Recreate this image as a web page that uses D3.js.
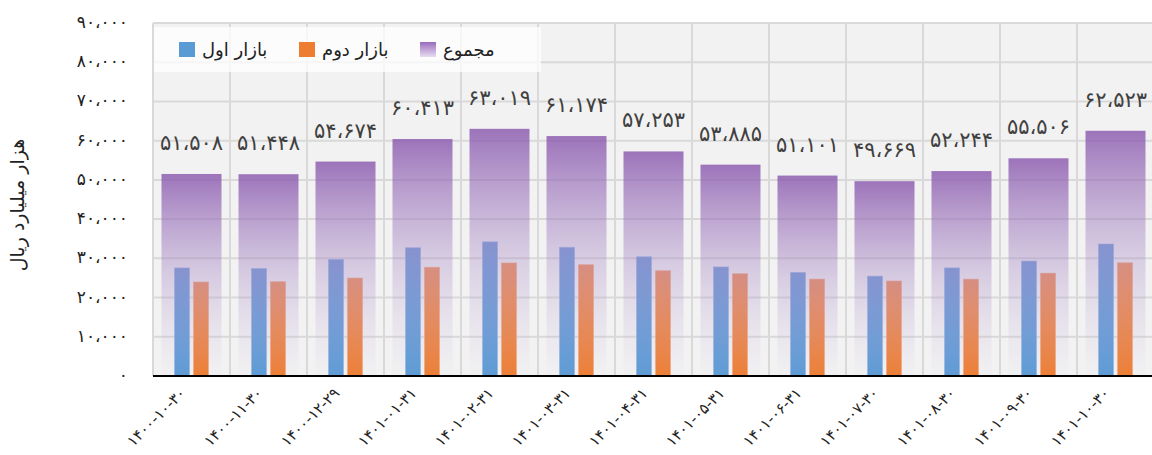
<!DOCTYPE html>
<html><head><meta charset="utf-8">
<script src="https://cdn.jsdelivr.net/npm/d3@7/dist/d3.min.js"></script>
<style>
html,body{margin:0;padding:0;background:#fff;}
svg{display:block;font-family:"DejaVu Sans",sans-serif;}
</style></head>
<body><svg id="c" width="1152" height="455"></svg>
<script>
const categories = ["1400-10-30","1400-11-30","1400-12-29","1401-01-31","1401-02-31","1401-03-31","1401-04-31","1401-05-31","1401-06-31","1401-07-30","1401-08-30","1401-09-30","1401-10-30"];
const market1 = [27550,27400,29700,32700,34200,32800,30400,27800,26400,25450,27560,29300,33650];
const market2 = [23958,24048,24974,27713,28819,28374,26853,26085,24701,24219,24684,26206,28873];
const totals  = [51508,51448,54674,60413,63019,61174,57253,53885,51101,49669,52244,55506,62523];
const yTicks  = [0,10000,20000,30000,40000,50000,60000,70000,80000,90000];
const seriesNames = ["بازار اول","بازار دوم","مجموع"];
const yTitle = "هزار میلیارد ریال";

const fa = s => String(s).replace(/[0-9]/g, d => "۰۱۲۳۴۵۶۷۸۹"[+d]);
const fmt = v => fa(d3.format(",")(v).replace(/,/g,"،"));

const svg = d3.select("#c");
const L = 153, R = 1154, T = 23, B = 376;
const x = d3.scaleBand().domain(categories).range([L,R]).paddingInner(0).paddingOuter(0);
const y = d3.scaleLinear().domain([0,90000]).range([B,T]);

const defs = svg.append("defs");
const gp = defs.append("linearGradient").attr("id","gp").attr("x1",0).attr("y1",0).attr("x2",0).attr("y2",1);
gp.append("stop").attr("offset","0").attr("stop-color","#8a58ae").attr("stop-opacity",0.82);
gp.append("stop").attr("offset","0.5").attr("stop-color","#a98bc6").attr("stop-opacity",0.38);
gp.append("stop").attr("offset","1").attr("stop-color","#c9b6dc").attr("stop-opacity",0.03);
const gb = defs.append("linearGradient").attr("id","gb").attr("x1",0).attr("y1",0).attr("x2",0).attr("y2",1);
gb.append("stop").attr("offset","0").attr("stop-color","#6f9ad6");
gb.append("stop").attr("offset","1").attr("stop-color","#5b9bd5");
const go = defs.append("linearGradient").attr("id","go").attr("x1",0).attr("y1",0).attr("x2",0).attr("y2",1);
go.append("stop").attr("offset","0").attr("stop-color","#ee8e5a");
go.append("stop").attr("offset","1").attr("stop-color","#ed7d31");
const gl = defs.append("linearGradient").attr("id","gl").attr("x1",0).attr("y1",0).attr("x2",0).attr("y2",1);
gl.append("stop").attr("offset","0").attr("stop-color","#9a6cbd");
gl.append("stop").attr("offset","1").attr("stop-color","#e6dcef");

// plot background
svg.append("rect").attr("x",L).attr("y",T).attr("width",R-L).attr("height",B-T).attr("fill","#f2f2f2");

// gridlines
svg.append("g").selectAll("line").data(yTicks.slice(1)).join("line")
  .attr("x1",L).attr("x2",R).attr("y1",d=>y(d)).attr("y2",d=>y(d))
  .attr("stroke","#d9d9d9").attr("stroke-width",2);
const vb = categories.map(c=>x(c)).concat([R]);
svg.append("g").selectAll("line").data(vb).join("line")
  .attr("x1",d=>d).attr("x2",d=>d).attr("y1",T).attr("y2",B)
  .attr("stroke","#d9d9d9").attr("stroke-width",2);

const bw = 15, gap = 4;
const cx = c => x(c) + x.bandwidth()/2;
// series bars
svg.append("g").selectAll("rect").data(categories).join("rect")
  .attr("x",(c)=>cx(c)-gap/2-bw).attr("width",bw)
  .attr("y",(c,i)=>y(market1[i])).attr("height",(c,i)=>B-y(market1[i]))
  .attr("fill","url(#gb)").attr("stroke","#8fb4e3").attr("stroke-width",1).attr("stroke-opacity",0.6);
svg.append("g").selectAll("rect").data(categories).join("rect")
  .attr("x",(c)=>cx(c)+gap/2).attr("width",bw)
  .attr("y",(c,i)=>y(market2[i])).attr("height",(c,i)=>B-y(market2[i]))
  .attr("fill","url(#go)").attr("stroke","#f2a57a").attr("stroke-width",1).attr("stroke-opacity",0.6);
// total bars (overlay)
const tw = 60;
svg.append("g").selectAll("rect").data(categories).join("rect")
  .attr("x",c=>cx(c)-tw/2).attr("width",tw)
  .attr("y",(c,i)=>y(totals[i])).attr("height",(c,i)=>B-y(totals[i]))
  .attr("fill","url(#gp)");

// value labels
svg.append("g").selectAll("text").data(categories).join("text")
  .attr("x",cx).attr("y",(c,i)=>y(totals[i])-24)
  .attr("text-anchor","middle").attr("font-size",21).attr("fill","#404040")
  .attr("direction","ltr")
  .text((c,i)=>fmt(totals[i]));

// x axis line
svg.append("line").attr("x1",L).attr("x2",1152).attr("y1",B).attr("y2",B).attr("stroke","#000").attr("stroke-width",2);

// x labels
svg.append("g").selectAll("text").data(categories).join("text")
  .attr("transform",c=>`translate(${cx(c)-5},${B+18}) rotate(-45)`)
  .attr("text-anchor","end").attr("font-size",15).attr("fill","#222")
  .attr("direction","ltr").style("unicode-bidi","plaintext")
  .text(c=>fa(c));

// y labels
svg.append("g").selectAll("text").data(yTicks).join("text")
  .attr("x",128).attr("y",d=>y(d)+5)
  .attr("text-anchor","end").attr("font-size",17).attr("fill","#222")
  .attr("direction","ltr")
  .text(d=>d===0?fa(0):fmt(d));

// y title
svg.append("text").attr("transform","translate(24,205) rotate(-90)")
  .attr("text-anchor","middle").attr("font-size",19).attr("fill","#222")
  .text(yTitle);

// legend
svg.append("rect").attr("x",L+1).attr("y",27).attr("width",387).attr("height",45).attr("fill","#fff").attr("opacity",0.75);
const leg = [{n:seriesNames[0],f:"#5b9bd5",x:179},{n:seriesNames[1],f:"#ed7d31",x:299},{n:seriesNames[2],f:"url(#gl)",x:420}];
const lg = svg.append("g").selectAll("g").data(leg).join("g");
lg.append("rect").attr("x",d=>d.x).attr("y",42).attr("width",16).attr("height",15).attr("fill",d=>d.f);
lg.append("text").attr("x",d=>d.x+23).attr("y",56).attr("font-size",18).attr("fill","#222")
  .attr("text-anchor","start").text(d=>d.n);
</script></body></html>
